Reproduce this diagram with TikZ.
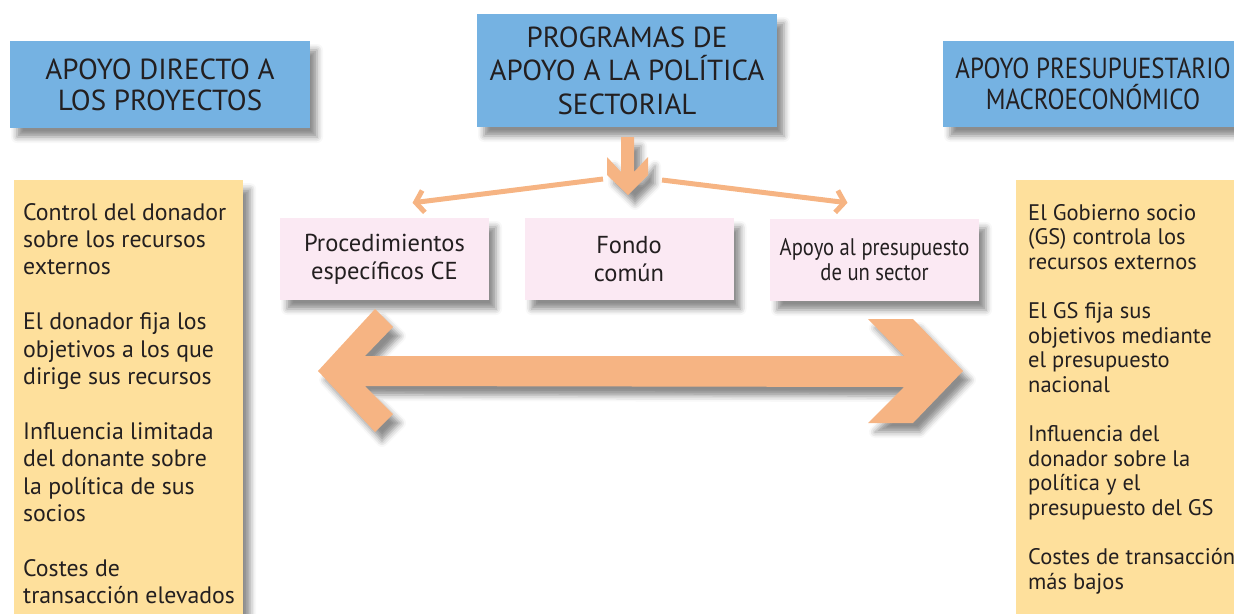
\documentclass[tikz,border=0pt]{standalone}
\usepackage{fontspec}
\setmainfont{PT Sans}
\newfontfamily\narrowfont[FakeStretch=0.86]{PT Sans}
\usetikzlibrary{arrows.meta,shadows.blur}

\definecolor{boxblue}{HTML}{75B2E2}
\definecolor{boxpink}{HTML}{FBE9F3}
\definecolor{boxyellow}{HTML}{FEE09C}
\definecolor{arroworange}{HTML}{F6B483}
\definecolor{textgray}{HTML}{231F20}

\tikzset{
  softshadow/.style={blur shadow={shadow xshift=7pt,shadow yshift=-9pt,shadow blur radius=6pt,shadow opacity=45}},
  titlebox/.style={fill=boxblue,softshadow,text=textgray,align=center,minimum width=300pt,inner sep=0pt,font=\fontsize{29}{31}\selectfont},
  optionbox/.style={fill=boxpink,softshadow,text=textgray,align=center,minimum width=209pt,minimum height=82pt,inner sep=0pt,font=\fontsize{24.5}{28}\selectfont},
  listbox/.style={fill=boxyellow,softshadow,minimum width=229pt,minimum height=460pt,inner sep=0pt,anchor=north west},
  listtext/.style={text=textgray,align=left,inner sep=0pt,anchor=north west,font=\fontsize{23.8}{27.4}\selectfont},
  fatarrow/.style={fill=arroworange,softshadow},
  thinarrow/.style={draw=arroworange,line width=5pt,-{Straight Barb[length=8pt,width=22pt]}}
}

\begin{document}
\begin{tikzpicture}[x=1pt,y=-1pt]
\useasboundingbox (0,0) rectangle (1234,613);
% the three kinds of aid
\node[titlebox,minimum height=87pt] (direct) at (160,84.5) {APOYO DIRECTO A\\LOS PROYECTOS};
\node[titlebox,minimum height=113pt,font=\fontsize{29}{33.5}\selectfont] (sector) at (627,70.5) {PROGRAMAS DE\\APOYO A LA POLÍTICA\\SECTORIAL};
\node[titlebox,minimum height=86pt,font=\narrowfont\fontsize{29}{31}\selectfont] (budget) at (1093,84) {APOYO PRESUPUESTARIO\\MACROECONÓMICO};

% sector programmes
\node[optionbox] (proc) at (384.5,259) {Procedimientos\\específicos CE};
\node[optionbox] (fondo) at (629,259) {Fondo\\común};
\node[optionbox,font=\narrowfont\fontsize{24}{25}\selectfont] (apoyo) at (874.5,260) {Apoyo al presupuesto\\de un sector};

% side columns
\node[listbox] (leftlist) at (14,180) {};
\node[listbox,minimum width=230pt] (rightlist) at (1016,180) {};
\node[listtext] (lefttext) at (23,203) {Control del donador\\sobre los recursos\\externos\\[27.4pt]
  El donador fija los\\objetivos a los que\\dirige sus recursos\\[27.4pt]
  Influencia limitada\\del donante sobre\\la política de sus\\socios\\[27.4pt]
  Costes de\\transacción elevados};
\node[listtext,font=\fontsize{22.5}{24.6}\selectfont] (righttext) at (1028,204) {El Gobierno socio\\(GS) controla los\\recursos externos\\[24.6pt]
  El GS fija sus\\objetivos mediante\\el presupuesto\\nacional\\[24.6pt]
  Influencia del\\donador sobre la\\política y el\\presupuesto del GS\\[24.6pt]
  Costes de transacción\\más bajos};

% arrows
\fill[fatarrow] (621,137) -- (634,137) -- (634,172) -- (648,157) -- (648,175) -- (628,195)
  -- (607,175) -- (607,157) -- (621,172) -- cycle;
\coordinate (lstart) at (603,179);
\coordinate (rstart) at (662,180);
\coordinate (ltip) at ([shift={(28,-15)}]proc.north);
\coordinate (rtip) at ([shift={(-27,-16)}]apoyo.north);
\draw[thinarrow] (lstart) -- (ltip);
\draw[thinarrow] (rstart) -- (rtip);
\fill[fatarrow] (318,371) -- (375,309) -- (393,327) -- (365,356) -- (904,356) -- (868,319)
  -- (913,319) -- (963,371) -- (913,423) -- (868,423) -- (904,387) -- (365,386)
  -- (393,414) -- (375,432) -- cycle;
\end{tikzpicture}
\end{document}
